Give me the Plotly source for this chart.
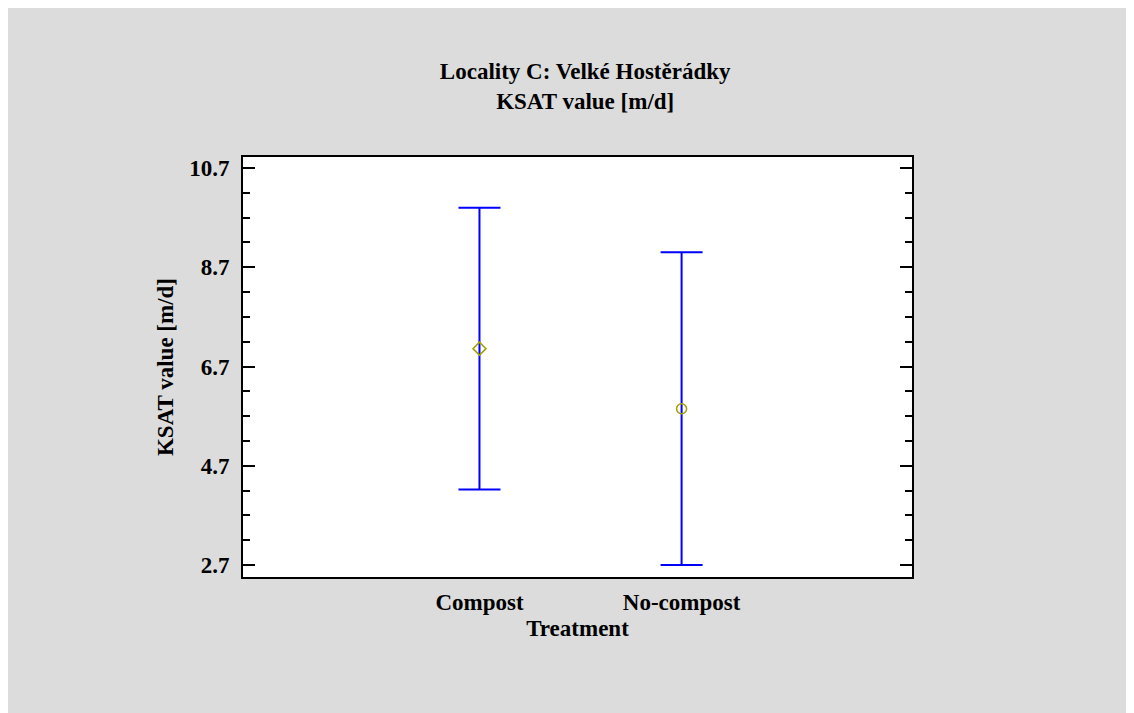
import plotly.graph_objects as go

treatments = ['Compost', 'No-compost']
mean_ksat = [7.06, 5.85]
lower_ksat = [4.22, 2.70]
upper_ksat = [9.90, 9.00]

bar_color = '#0000ff'
point_color = '#a0a000'
font_face = 'Liberation Serif'
txt = dict(family=font_face, size=23, color='black', weight='bold')

err_plus = [u - m for u, m in zip(upper_ksat, mean_ksat)]
err_minus = [m - l for m, l in zip(mean_ksat, lower_ksat)]

fig = go.Figure(data=go.Scatter(
    x=treatments,
    y=mean_ksat,
    mode='markers',
    marker=dict(symbol=['diamond-open', 'circle-open'], size=10, color=point_color,
                line=dict(width=1.5, color=point_color)),
    error_y=dict(
        type='data',
        symmetric=False,
        array=err_plus,
        arrayminus=err_minus,
        color=bar_color,
        thickness=2,
        width=21)
    ))

fig.update_layout(
    width=1134, height=713,
    paper_bgcolor='#dcdcdc',
    plot_bgcolor='white',
    showlegend=False,
    margin=dict(l=235, r=230, t=149, b=144),
    font=txt,
    title=dict(
        text='Locality C: Velké Hostěrádky<br>KSAT value [m/d]',
        x=0.509, xanchor='center',
        y=1 - 71 / 713, yanchor='top', yref='container',
        font=txt),
    xaxis=dict(
        range=[-1.17, 2.14],
        showgrid=False, zeroline=False,
        showline=True, linecolor='black', linewidth=2, mirror=True,
        ticks='', ticklabelstandoff=3, tickfont=txt,
        title=dict(text='Treatment', standoff=6, font=txt)),
    yaxis=dict(
        range=[2.46, 10.92],
        tick0=2.7, dtick=2, tickformat='.1f',
        showgrid=False, zeroline=False,
        showline=True, linecolor='black', linewidth=2, mirror='allticks',
        ticks='inside', ticklen=12, tickwidth=2, tickcolor='black',
        minor=dict(tick0=2.7, dtick=0.5, ticks='inside', ticklen=7,
                   tickwidth=2, tickcolor='black', showgrid=False),
        ticklabelstandoff=7, tickfont=txt,
        title=dict(text='KSAT value [m/d]', standoff=9, font=txt)),
)

fig.write_html('out.html')
